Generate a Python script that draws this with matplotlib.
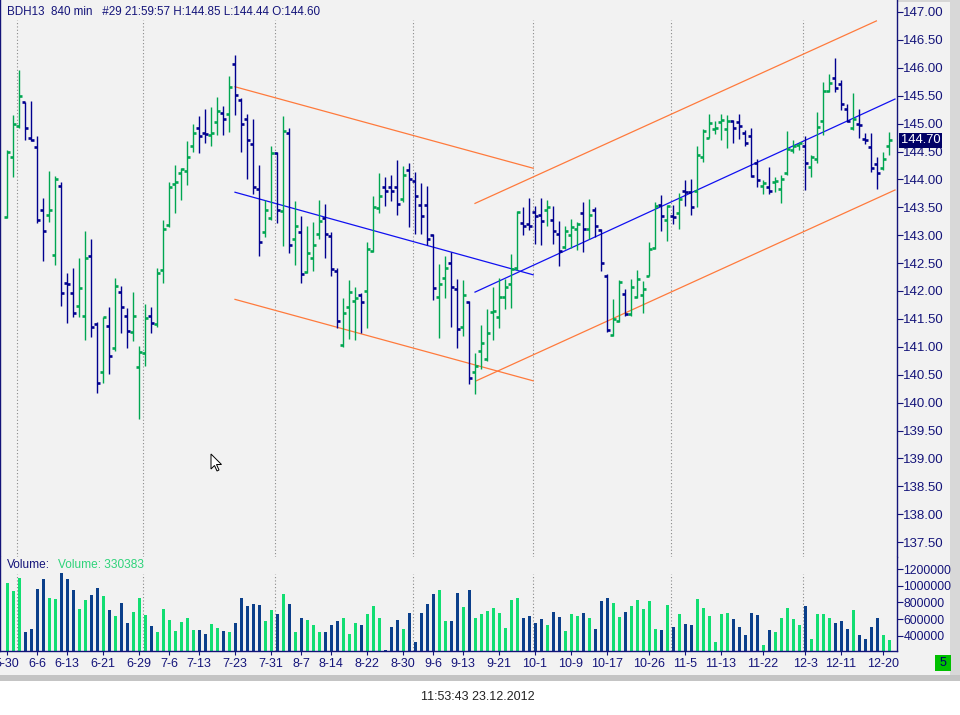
import numpy as np
import matplotlib.pyplot as plt
from matplotlib.patches import Rectangle, Polygon
from matplotlib.transforms import blended_transform_factory

plt.rcParams['font.family'] = ['Liberation Sans', 'DejaVu Sans']

# --- daily bars (one per session) ---
opens = [143.32, 144.41, 144.95, 145.38, 144.75, 144.58, 143.46, 143.37, 142.64, 143.89,
         142.14, 141.96, 141.73, 141.56, 142.62, 141.40, 140.54, 141.37, 140.97, 141.98,
         141.55, 141.26, 140.63, 140.88, 141.55, 141.40, 142.37, 143.18, 143.91, 144.11,
         144.15, 144.59, 144.92, 144.84, 144.79, 145.02, 145.19, 145.17, 146.07, 145.42,
         145.08, 144.63, 143.83, 143.05, 143.30, 144.47, 143.43, 144.83, 142.93, 143.05,
         142.34, 142.60, 143.02, 143.30, 142.99, 142.35, 141.03, 141.71, 141.82, 141.93,
         142.00, 142.72, 143.49, 143.86, 143.87, 143.87, 143.65, 144.17, 143.97, 143.54,
         143.54, 143.00, 141.89, 142.23, 142.51, 142.04, 141.35, 141.80, 140.54, 140.93,
         140.79, 141.62, 141.53, 141.89, 142.12, 142.41, 143.21, 143.20, 143.42, 143.36,
         143.45, 143.28, 143.03, 142.78, 143.00, 143.11, 143.39, 143.12, 143.46, 143.09,
         142.27, 141.21, 141.46, 141.94, 141.58, 141.90, 141.92, 142.27, 142.77, 143.54,
         143.28, 143.34, 143.39, 143.79, 143.77, 143.79, 144.41, 144.75, 144.91, 145.03,
         144.90, 145.05, 145.03, 144.83, 144.78, 144.29, 143.89, 143.87, 143.96, 143.82,
         144.11, 144.53, 144.62, 144.60, 144.22, 144.36, 145.05, 145.59, 145.82, 145.71,
         145.26, 144.92, 144.99, 144.72, 144.58, 144.28, 144.20, 144.60]
highs = [144.53, 145.15, 145.96, 145.39, 145.41, 144.78, 143.67, 144.15, 144.06, 143.95,
         142.32, 142.41, 142.60, 143.08, 142.93, 141.44, 141.54, 141.71, 142.23, 142.09,
         141.70, 141.98, 141.01, 141.77, 141.71, 142.41, 143.27, 143.96, 144.26, 144.20,
         144.68, 144.99, 145.14, 145.27, 145.29, 145.47, 145.32, 145.85, 146.23, 145.45,
         145.17, 145.08, 144.26, 143.63, 144.60, 144.50, 145.14, 144.93, 143.61, 143.34,
         143.16, 143.24, 143.63, 143.56, 143.05, 142.42, 141.88, 142.20, 142.08, 141.96,
         142.87, 143.70, 144.11, 144.04, 144.07, 144.35, 144.24, 144.29, 144.13, 143.94,
         143.89, 143.02, 142.48, 142.63, 142.69, 142.21, 142.20, 141.82, 140.88, 141.39,
         141.67, 142.08, 142.23, 142.21, 142.66, 143.44, 143.51, 143.67, 143.52, 143.66,
         143.63, 143.52, 143.25, 143.16, 143.29, 143.24, 143.60, 143.64, 143.50, 143.12,
         142.30, 141.86, 142.19, 142.03, 142.21, 142.38, 142.18, 142.87, 143.59, 143.72,
         143.55, 143.54, 143.75, 143.99, 144.00, 144.60, 144.90, 145.18, 145.05, 145.18,
         145.15, 145.06, 145.17, 144.89, 144.93, 144.36, 143.99, 144.22, 144.05, 144.08,
         144.86, 144.71, 144.66, 144.77, 144.44, 145.20, 145.74, 145.88, 146.17, 145.78,
         145.36, 145.54, 145.26, 144.84, 144.84, 144.41, 144.50, 144.85]
lows = [143.30, 144.05, 144.92, 144.71, 144.68, 143.22, 142.53, 143.24, 142.47, 141.73,
        141.43, 141.53, 141.53, 141.13, 141.18, 140.17, 140.35, 140.51, 140.93, 141.24,
        140.97, 141.10, 139.71, 140.66, 141.24, 141.36, 142.14, 143.14, 143.39, 143.63,
        143.90, 144.50, 144.48, 144.66, 144.60, 144.80, 144.80, 144.85, 145.15, 144.50,
        144.00, 143.74, 142.63, 142.97, 143.27, 143.21, 142.81, 142.68, 142.47, 142.15,
        142.32, 142.35, 142.93, 142.60, 142.26, 141.33, 140.99, 141.14, 141.13, 141.24,
        141.33, 142.70, 143.40, 143.53, 143.61, 143.37, 143.60, 143.15, 143.02, 143.02,
        142.83, 141.84, 141.16, 141.87, 141.36, 140.97, 141.20, 140.33, 140.15, 140.61,
        140.75, 141.12, 141.33, 141.67, 141.69, 142.38, 143.00, 143.10, 142.84, 142.82,
        143.16, 142.84, 142.44, 142.76, 142.77, 142.73, 142.70, 142.94, 142.96, 142.35,
        141.26, 141.19, 141.44, 141.55, 141.56, 141.87, 141.61, 142.26, 142.75, 143.08,
        142.90, 143.20, 143.12, 143.52, 143.37, 143.50, 144.31, 144.74, 144.81, 144.71,
        144.56, 144.65, 144.72, 144.60, 144.05, 143.87, 143.74, 143.74, 143.78, 143.57,
        144.08, 144.48, 144.53, 143.81, 144.05, 144.29, 144.80, 145.57, 145.57, 145.24,
        145.03, 144.89, 144.75, 144.63, 144.14, 143.82, 144.17, 144.44]
closes = [144.50, 144.99, 145.49, 144.92, 144.70, 143.27, 143.07, 143.45, 144.00, 141.96,
          142.12, 141.60, 142.05, 142.60, 141.35, 140.36, 141.53, 140.84, 142.09, 141.71,
          141.28, 141.55, 140.90, 141.51, 141.42, 142.32, 143.12, 143.87, 143.95, 144.19,
          144.41, 144.83, 144.77, 144.81, 144.84, 145.23, 145.08, 145.65, 145.52, 144.99,
          144.71, 143.86, 142.88, 143.46, 144.47, 143.45, 144.87, 142.82, 143.16, 142.30,
          142.68, 142.82, 143.25, 143.03, 142.39, 141.46, 141.60, 141.98, 141.88, 141.80,
          142.75, 143.50, 143.71, 143.79, 143.79, 143.56, 144.08, 144.01, 143.71, 143.34,
          142.94, 142.05, 142.12, 142.41, 142.08, 141.32, 141.92, 140.44, 140.65, 141.06,
          141.24, 141.65, 141.89, 142.08, 142.39, 143.41, 143.16, 143.17, 143.34, 143.25,
          143.50, 143.07, 142.72, 143.07, 143.14, 143.20, 143.12, 143.37, 143.16, 142.50,
          141.30, 141.49, 142.16, 141.58, 142.08, 142.21, 142.03, 142.75, 143.52, 143.34,
          143.52, 143.32, 143.64, 143.77, 143.50, 144.43, 144.86, 145.01, 144.93, 145.06,
          145.05, 144.93, 144.96, 144.66, 144.06, 143.99, 143.93, 143.80, 143.97, 144.00,
          144.54, 144.59, 144.65, 144.29, 144.41, 144.94, 145.58, 145.72, 145.64, 145.36,
          145.05, 145.09, 144.98, 144.71, 144.20, 144.11, 144.36, 144.70]
volumes = [1032, 936, 1092, 448, 480, 960, 1080, 852, 840, 1152,
           1080, 948, 720, 828, 888, 972, 876, 708, 636, 792,
           552, 684, 852, 648, 516, 444, 720, 588, 456, 564,
           612, 468, 468, 420, 540, 492, 456, 444, 552, 852,
           756, 780, 768, 576, 708, 660, 900, 780, 444, 612,
           588, 528, 444, 444, 528, 576, 612, 420, 552, 528,
           660, 756, 612, 228, 504, 588, 480, 672, 324, 672,
           780, 900, 948, 576, 576, 912, 744, 948, 612, 660,
           696, 732, 672, 492, 828, 852, 612, 636, 552, 600,
           528, 684, 624, 456, 660, 636, 672, 612, 480, 816,
           852, 792, 624, 684, 756, 828, 720, 816, 480, 468,
           768, 504, 660, 540, 528, 840, 732, 636, 324, 660,
           672, 600, 504, 408, 672, 648, 288, 468, 444, 612,
           732, 600, 528, 756, 360, 660, 660, 612, 552, 576,
           480, 708, 408, 360, 504, 612, 408, 348]
volumes = [v * 1000 for v in volumes]

date_labels = ['5-30', '6-6', '6-13', '6-21', '6-29', '7-6', '7-13', '7-23', '7-31',
               '8-7', '8-14', '8-22', '8-30', '9-6', '9-13', '9-21', '10-1', '10-9',
               '10-17', '10-26', '11-5', '11-13', '11-22', '12-3', '12-11', '12-20']
date_pos = [0, 5, 10, 16, 22, 27, 32, 38, 44, 49, 54, 60, 66, 71, 76, 82, 88, 94,
            100, 107, 113, 119, 126, 133, 139, 146]
month_starts = [2, 23, 45, 68, 88, 111, 133]

# hand drawn trend lines: (bar index, price) end points
down_x = [38.0, 87.7]
down_upper = [145.66, 144.20]
down_mid = [143.77, 142.29]
down_lower = [141.85, 140.39]
up_mid_x, up_mid = [78.0, 148.0], [141.98, 145.44]
up_upper_x, up_upper = [78.0, 144.9], [143.57, 146.84]
up_lower_x, up_lower = [78.2, 148.0], [140.39, 143.81]

header = 'BDH13  840 min   #29 21:59:57 H:144.85 L:144.44 O:144.60'
last_price = 144.70

W, H = 960, 715
NAVY = '#14147a'
BG = '#f2f2f2'
UP, DOWN = '#00a651', '#00008f'
VUP, VDOWN = '#12de72', '#0b3f8a'
ORANGE, BLUE = '#ff7a3c', '#1010f0'


def fx(x):
    return x / W


def fy(y):
    return 1 - y / H


fig = plt.figure(figsize=(W / 100, H / 100), dpi=100)
fig.patch.set_facecolor('white')

# window background and frame (behind the axes)
frame = [((0, fy(675)), fx(950), 675 / H, BG),
         ((fx(950), fy(681)), fx(10), 681 / H, '#d8d8d8'),
         ((0, fy(681)), 1, 6 / H, '#c4c4c4'),
         ((0, fy(2)), fx(950), 2 / H, '#d6d6d6')]
for xy, w, h, c in frame:
    fig.patches.append(Rectangle(xy, w, h, transform=fig.transFigure,
                                 fc=c, ec='none', zorder=-5))

idx = np.arange(len(closes))
up = np.array(closes) >= np.array(opens)
bar_cols = np.where(up, UP, DOWN)
vol_cols = np.where(up, VUP, VDOWN)
xlim = (-7 / 6, (897 - 7) / 6)

# ---------------- price panel ----------------
ax = fig.add_axes([0, fy(557), fx(897), 557 / H], zorder=1)
ax.set_facecolor(BG)
ax.set_xlim(*xlim)
ax.set_ylim(147 - 545 / 55.8, 147 + 12 / 55.8)

for m in month_starts:
    ax.axvline(m - 0.3, ymin=0, ymax=(557 - 20) / 557, color='#8a8a8a',
               lw=0.8, ls=(0, (1, 2)), zorder=1)

ax.vlines(idx, lows, highs, colors=bar_cols, lw=1.0, zorder=3)
ax.hlines(opens, idx - 0.42, idx, colors=bar_cols, lw=1.9, zorder=3)
ax.hlines(closes, idx, idx + 0.42, colors=bar_cols, lw=1.9, zorder=3)

ax.plot(down_x, down_upper, color=ORANGE, lw=0.9, zorder=2)
ax.plot(down_x, down_lower, color=ORANGE, lw=0.9, zorder=2)
ax.plot(down_x, down_mid, color=BLUE, lw=0.9, zorder=2)
ax.plot(up_upper_x, up_upper, color=ORANGE, lw=0.9, zorder=2)
ax.plot(up_lower_x, up_lower, color=ORANGE, lw=0.9, zorder=2)
ax.plot(up_mid_x, up_mid, color=BLUE, lw=0.9, zorder=2)

ax.yaxis.tick_right()
yt = np.arange(137.5, 147.01, 0.5)
ax.set_yticks(yt)
ax.set_yticklabels([f'{t:.2f}' for t in yt])
ax.tick_params(axis='y', colors=NAVY, length=4, width=0.8, pad=0.5, labelsize=9.5)
ax.set_xticks([])
for s in ['top', 'bottom']:
    ax.spines[s].set_visible(False)
for s in ['left', 'right']:
    ax.spines[s].set_color(NAVY)
    ax.spines[s].set_linewidth(1.0)

tr = blended_transform_factory(ax.transAxes, ax.transData)
ax.text(1.004, last_price, f'{last_price:.2f}', transform=tr, va='center', ha='left',
        color='white', fontsize=9.3, zorder=10, clip_on=False,
        bbox=dict(boxstyle='square,pad=0.12', fc='#000066', ec='none'))

# ---------------- volume panel ----------------
vx = fig.add_axes([0, fy(651), fx(897), 94 / H], zorder=1)
vx.set_facecolor(BG)
vx.set_xlim(*xlim)
vx.set_ylim(216400, 216400 + 94 * 12000)
for m in month_starts:
    vx.axvline(m - 0.3, ymin=0, ymax=(651 - 574) / 94, color='#8a8a8a',
               lw=0.8, ls=(0, (1, 2)), zorder=1)
vx.bar(idx, volumes, width=0.5, color=vol_cols, zorder=2)
vx.yaxis.tick_right()
vx.set_yticks([400000, 600000, 800000, 1000000, 1200000])
vx.set_yticklabels(['400000', '600000', '800000', '1000000', '1200000'])
vx.tick_params(axis='y', colors=NAVY, length=4, width=0.8, pad=0.5, labelsize=8.8)
vx.set_xticks(date_pos)
vx.set_xticklabels(date_labels)
vx.tick_params(axis='x', colors=NAVY, length=3, width=0.8, pad=2, labelsize=9)
vx.spines['top'].set_visible(False)
for s in ['left', 'right', 'bottom']:
    vx.spines[s].set_color(NAVY)
    vx.spines[s].set_linewidth(1.0)

# ---------------- texts ----------------
fig.text(fx(7), fy(12), header, va='center', ha='left', fontsize=8.4, color=NAVY)
fig.text(fx(7), fy(565), 'Volume:', va='center', ha='left', fontsize=8.6, color=NAVY)
fig.text(fx(58), fy(565), 'Volume: 330383', va='center', ha='left', fontsize=8.6,
         color='#2ed37a')
fig.text(fx(478), fy(697), '11:53:43 23.12.2012', va='center', ha='center',
         fontsize=9, color='#222222')

fig.patches.append(Rectangle((fx(935), fy(671)), fx(16), 16 / H, transform=fig.transFigure,
                             fc='#00c000', ec='none', zorder=5))
fig.text(fx(943), fy(663), '5', va='center', ha='center', fontsize=9, color='#00006a',
         zorder=6)

# mouse pointer
pts = [(0, 0), (0, 15), (3.5, 11.5), (6, 17), (8, 16), (5.5, 10.5), (10.5, 10.5)]
cursor = Polygon([(fx(211 + px), fy(454 + py)) for px, py in pts], closed=True,
                 transform=fig.transFigure, fc='white', ec='black', lw=0.7, zorder=20)
fig.patches.append(cursor)

fig.savefig('out.png', dpi=100, facecolor=fig.get_facecolor())
